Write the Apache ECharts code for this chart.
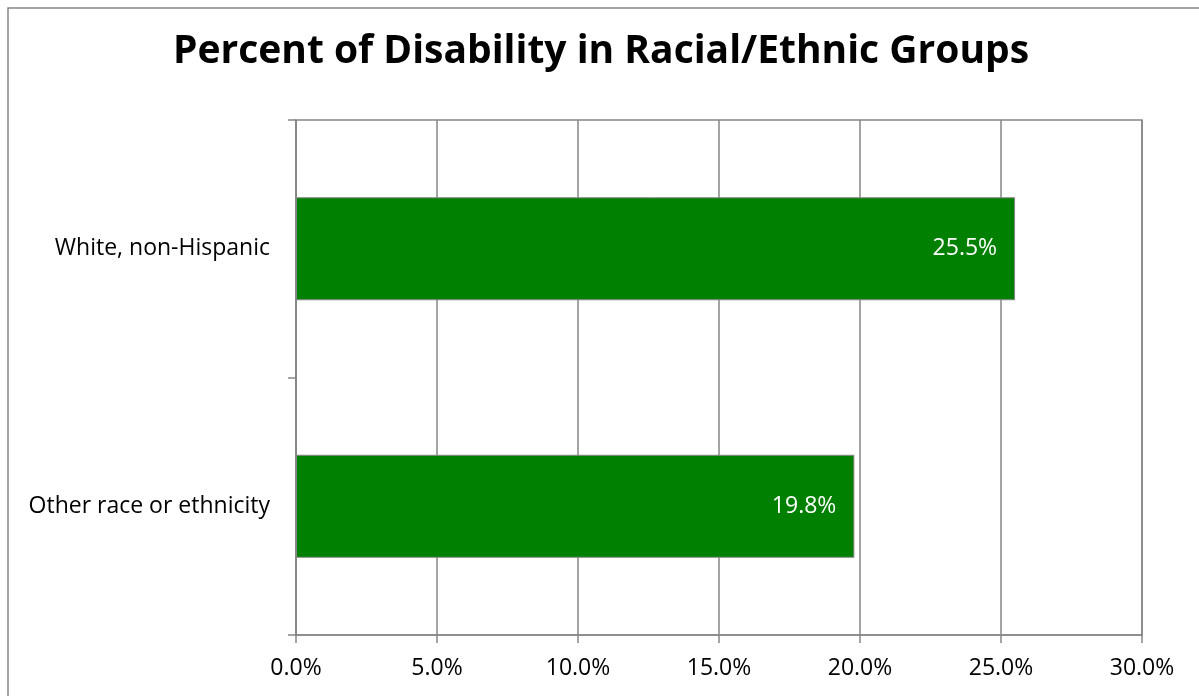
<!DOCTYPE html>
<html>
<head>
<meta charset="utf-8">
<script src="https://cdn.jsdelivr.net/npm/echarts@6/dist/echarts.min.js"></script>
<style>
html,body{margin:0;padding:0;background:#fff;}
#chart{width:1199px;height:696px;}
</style>
</head>
<body>
<div id="chart"></div>
<script>
const titleText = 'Percent of Disability in Racial/Ethnic Groups';
const categories = ['Other race or ethnicity', 'White, non-Hispanic'];
const values = [19.8, 25.5];
const xTicks = [0, 5, 10, 15, 20, 25, 30];

const chart = echarts.init(document.getElementById('chart'));
const font = '"Open Sans", "Liberation Sans", sans-serif';
chart.setOption({
  backgroundColor: '#fff',
  animation: false,
  title: {
    text: titleText,
    left: 596, top: 47, textAlign: 'center', textVerticalAlign: 'middle',
    textStyle: { fontFamily: font, fontWeight: 'bold', fontSize: 39, color: '#000' }
  },
  graphic: [{
    type: 'rect', shape: { x: 8, y: 8, width: 1300, height: 800 },
    style: { fill: null, stroke: '#868686', lineWidth: 1.5 }, silent: true, z: -1
  }],
  grid: {
    left: 296, right: 57, top: 120, bottom: 61,
    show: true, borderColor: '#868686', borderWidth: 1.5
  },
  xAxis: {
    type: 'value', min: xTicks[0], max: xTicks[xTicks.length - 1], interval: 5,
    axisLine: { show: true, lineStyle: { color: '#868686', width: 1.5 } },
    axisTick: { show: true, length: 8, lineStyle: { color: '#868686', width: 1.5 } },
    splitLine: { show: true, lineStyle: { color: '#868686', width: 1.5 } },
    axisLabel: {
      formatter: v => v.toFixed(1) + '%', margin: 22,
      fontFamily: font, fontSize: 23, color: '#000'
    }
  },
  yAxis: {
    type: 'category', data: categories,
    axisLine: { show: true, lineStyle: { color: '#868686', width: 1.5 } },
    axisTick: { show: true, length: 8, lineStyle: { color: '#868686', width: 1.5 } },
    axisLabel: { margin: 26, fontFamily: font, fontSize: 23, color: '#000' }
  },
  series: [{
    type: 'bar', data: values, barCategoryGap: '60%',
    itemStyle: { color: '#008000', borderColor: '#868686', borderWidth: 1 },
    label: {
      show: true, position: 'insideRight', distance: 18,
      formatter: p => p.value.toFixed(1) + '%',
      fontFamily: font, fontSize: 23, color: '#fff'
    }
  }]
});
</script>
</body>
</html>
